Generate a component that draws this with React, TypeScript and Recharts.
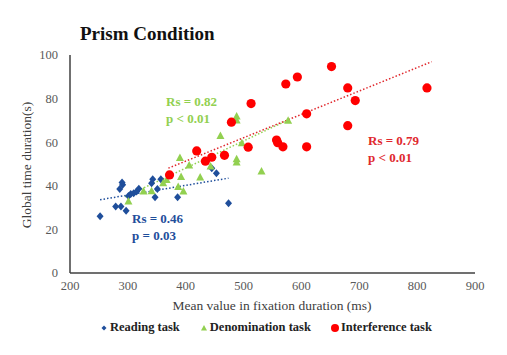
import { ScatterChart, Scatter, XAxis, YAxis, ReferenceLine, Legend } from "recharts";

// values
const readingX = [252, 279, 288, 297, 286, 291, 290, 301, 305, 310, 315, 319, 341, 343, 347, 351, 357, 386, 445, 453, 474];
const readingY = [26, 30.5, 30.5, 28.6, 38.5, 40.5, 41.5, 35.3, 36.2, 36.6, 37.4, 38.6, 41.2, 43, 34.7, 38.5, 43, 34.7, 48, 45.7, 32];

const denomX = [301, 327, 341, 361, 367, 387, 390, 392, 396, 406, 425, 443, 460, 488, 488, 488, 488, 497, 531, 577];
const denomY = [32.8, 37.4, 37.5, 41.2, 42.7, 39.4, 52.7, 44, 37.4, 49.3, 43.8, 48.9, 62.9, 71.8, 70, 52.2, 50.7, 59.5, 46.6, 69.8];

const interX = [372, 419, 434, 445, 467, 479, 508, 513, 557, 559, 568, 573, 593, 609, 609, 652, 680, 680, 693, 817];
const interY = [45, 56, 51.3, 53.1, 54, 69.2, 57.7, 77.7, 61, 59.8, 57.9, 86.7, 89.9, 73, 57.9, 94.7, 84.9, 67.6, 79.1, 84.9];

// trend line end points [x1, y1, x2, y2]
const readingTrend = [252, 33.6, 474, 43.5];
const denomTrend = [295, 35, 577, 70.2];
const interTrend = [370, 48.1, 825, 96.9];

const xTicks = [200, 300, 400, 500, 600, 700, 800, 900];
const yTicks = [0, 20, 40, 60, 80, 100];

const BLUE = "#1F4E9B";
const GREEN = "#92D050";
const RED = "#FF0000";
const SERIF = "Liberation Serif, Times New Roman, serif";

const toPoints = (xs: number[], ys: number[]) => xs.map((x, i) => ({ x, y: ys[i] }));

const readingData = toPoints(readingX, readingY);
const denomData = toPoints(denomX, denomY);
const interData = toPoints(interX, interY);

const Diamond = (p: any) => (
  <path d={`M${p.cx},${p.cy - 4} L${p.cx + 3.5},${p.cy} L${p.cx},${p.cy + 4} L${p.cx - 3.5},${p.cy} Z`} fill={BLUE} />
);
const Triangle = (p: any) => (
  <path d={`M${p.cx},${p.cy - 4.5} L${p.cx + 4},${p.cy + 3} L${p.cx - 4},${p.cy + 3} Z`} fill={GREEN} />
);
const Dot = (p: any) => <circle cx={p.cx} cy={p.cy} r={4.6} fill={RED} />;

const legendItems = [
  { name: "Reading task", color: BLUE, kind: "diamond" },
  { name: "Denomination task", color: GREEN, kind: "triangle" },
  { name: "Interference task", color: RED, kind: "circle" },
];

function LegendContent() {
  return (
    <div style={{ display: "flex", fontFamily: SERIF, fontWeight: "bold", fontSize: 12.5, color: "#222" }}>
      {legendItems.map((it, i) => (
        <div key={it.name} style={{ display: "flex", alignItems: "center", marginRight: i < 2 ? 20 : 0 }}>
          <svg width={8} height={10} style={{ marginRight: 2 }}>
            {it.kind === "diamond" && <path d="M4,2.5 L6.5,5 L4,7.5 L1.5,5 Z" fill={it.color} />}
            {it.kind === "triangle" && <path d="M4,2 L7,7.5 L1,7.5 Z" fill={it.color} />}
            {it.kind === "circle" && <circle cx={4} cy={5} r={4} fill={it.color} />}
          </svg>
          <span>{it.name}</span>
        </div>
      ))}
    </div>
  );
}

const seg = (t: number[]) => [
  { x: t[0], y: t[1] },
  { x: t[2], y: t[3] },
];

export default function App() {
  return (
    <div style={{ position: "absolute", left: 0, top: 0, background: "#fff" }}>
      <ScatterChart width={507} height={355} margin={{ top: 55, right: 32, bottom: 52, left: 20 }}>
        <XAxis
          type="number"
          dataKey="x"
          domain={[200, 900]}
          ticks={xTicks}
          tickLine={false}
          axisLine={{ stroke: "#404040", strokeWidth: 1.5 }}
          tick={{ fill: "#595959", fontSize: 12.5, fontFamily: SERIF }}
          height={30}
        />
        <YAxis
          type="number"
          dataKey="y"
          domain={[0, 100]}
          ticks={yTicks}
          tickLine={false}
          tickMargin={6}
          axisLine={{ stroke: "#404040", strokeWidth: 1.5 }}
          tick={{ fill: "#595959", fontSize: 12.5, fontFamily: SERIF }}
          width={50}
        />
        <ReferenceLine segment={seg(readingTrend)} stroke={BLUE} strokeWidth={1.5} strokeDasharray="1.5 2" />
        <ReferenceLine segment={seg(denomTrend)} stroke={GREEN} strokeWidth={1.5} strokeDasharray="1.5 2" />
        <ReferenceLine segment={seg(interTrend)} stroke="#E0282D" strokeWidth={1.5} strokeDasharray="1.5 2" />
        <Scatter name="Reading task" data={readingData} shape={Diamond} isAnimationActive={false} />
        <Scatter name="Denomination task" data={denomData} shape={Triangle} isAnimationActive={false} />
        <Scatter name="Interference task" data={interData} shape={Dot} isAnimationActive={false} />
        <Legend
          layout="horizontal"
          verticalAlign="middle"
          align="center"
          content={<LegendContent />}
          wrapperStyle={{ top: 320, left: 100, width: "auto" }}
        />
        <text x={80} y={40} fontFamily={SERIF} fontWeight="bold" fontSize={19} fill="#111">
          Prism Condition
        </text>
        <text x={272} y={310} textAnchor="middle" fontFamily={SERIF} fontSize={13.5} fill="#404040">
          Mean value in fixation  duration (ms)
        </text>
        <text
          x={28}
          y={165}
          textAnchor="middle"
          transform="rotate(-90, 28, 165)"
          dominantBaseline="middle"
          fontFamily={SERIF}
          fontSize={13.5}
          fill="#404040"
        >
          Global time duration(s)
        </text>
        <g fontFamily={SERIF} fontWeight="bold" fontSize={13}>
          <text x={166} y={106} fill={GREEN}>Rs = 0.82</text>
          <text x={166} y={123} fill={GREEN}>p &lt; 0.01</text>
          <text x={368} y={145} fill="#E0282D">Rs = 0.79</text>
          <text x={368} y={162} fill="#E0282D">p &lt; 0.01</text>
          <text x={132} y={223} fill={BLUE}>Rs = 0.46</text>
          <text x={132} y={240} fill={BLUE}>p = 0.03</text>
        </g>
      </ScatterChart>
    </div>
  );
}
